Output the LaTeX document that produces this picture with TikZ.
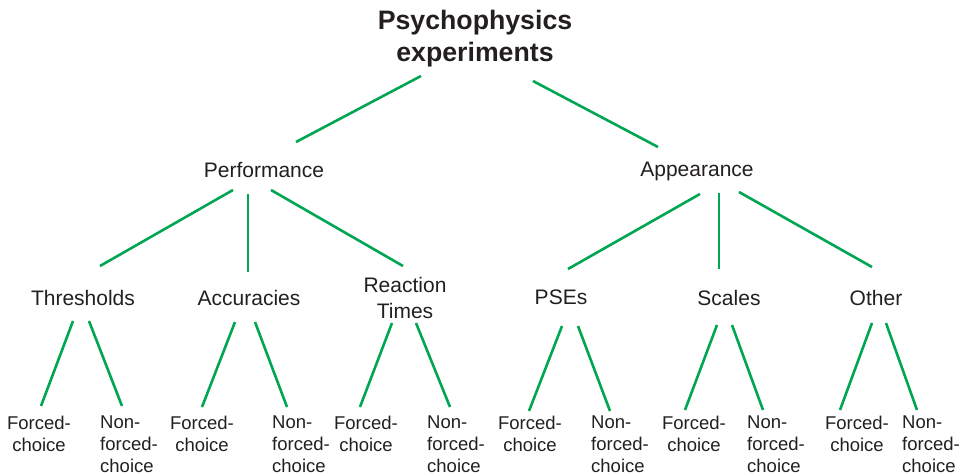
\documentclass[tikz,border=0pt]{standalone}
\usepackage{fontspec}
\setmainfont{Liberation Sans}
\definecolor{branchgreen}{RGB}{0,166,81}
\definecolor{labelgray}{RGB}{35,31,32}
\tikzset{root node/.style={font=\fontsize{26.7}{32}\selectfont\bfseries,align=center,anchor=north,inner sep=0pt,text=labelgray},
         mid node/.style={font=\fontsize{21}{26}\selectfont,align=center,anchor=north,inner sep=0pt,text=labelgray},
         leaf node/.style={font=\fontsize{18.5}{22}\selectfont,inner sep=0pt,text=labelgray},
         forced node/.style={leaf node,align=center,anchor=north},
         nonforced node/.style={leaf node,align=left,anchor=north west},
         branch/.style={draw=branchgreen,line width=2.6pt},
            }

\begin{document}
\begin{tikzpicture}[x=1pt,y=-1pt]
    \useasboundingbox (0,0) rectangle (964,476);

    \node[root node] (top) at (475,10) {Psychophysics\\experiments};

    \node[mid node] (perf) at (264,162) {Performance};
    \node[mid node] (app) at (697,162) {Appearance};

    \node[mid node] (thr) at (83,290) {Thresholds};
    \node[mid node] (acc) at (249,290) {Accuracies};
    \node[mid node] (rt) at (405,277) {Reaction\\Times};
    \node[mid node] (pse) at (561,290) {PSEs};
    \node[mid node] (sca) at (729,290) {Scales};
    \node[mid node] (oth) at (876,290) {Other};

    % leaves
    \node[forced node] (f1) at (39,416) {Forced-\\choice};
    \node[nonforced node] (n1) at (100,416) {Non-\\forced-\\choice};
    \node[forced node] (f2) at (202,416) {Forced-\\choice};
    \node[nonforced node] (n2) at (272,416) {Non-\\forced-\\choice};
    \node[forced node] (f3) at (366,416) {Forced-\\choice};
    \node[nonforced node] (n3) at (427,416) {Non-\\forced-\\choice};
    \node[forced node] (f4) at (530,416) {Forced-\\choice};
    \node[nonforced node] (n4) at (591,416) {Non-\\forced-\\choice};
    \node[forced node] (f5) at (694,416) {Forced-\\choice};
    \node[nonforced node] (n5) at (747,416) {Non-\\forced-\\choice};
    \node[forced node] (f6) at (857,416) {Forced-\\choice};
    \node[nonforced node] (n6) at (902,416) {Non-\\forced-\\choice};

    \path[branch]
    ([shift={(-54,66)}]top.north) edge ([shift={(32,-20)}]perf.north)
    ([shift={(58,71)}]top.north) edge ([shift={(-39,-15)}]app.north)
    ([shift={(-31,28)}]perf.north) edge ([shift={(17,-24)}]thr.north)
    ([shift={(-16,32)}]perf.north) edge ([shift={(-1,-18)}]acc.north)
    ([shift={(7,28)}]perf.north) edge ([shift={(-2,-11)}]rt.north)
    ([shift={(3,32)}]app.north) edge ([shift={(7,-21)}]pse.north)
    ([shift={(22,31)}]app.north) edge ([shift={(-10,-21)}]sca.north)
    ([shift={(42,30)}]app.north) edge ([shift={(-4,-23)}]oth.north);

    \path[branch]
    ([shift={(-10,31)}]thr.north) edge ([shift={(2,-10)}]f1.north)
    ([shift={(6,31)}]thr.north) edge ([shift={(22,-10)}]n1.north west)
    ([shift={(-14,32)}]acc.north) edge ([shift={(0,-9)}]f2.north)
    ([shift={(6,32)}]acc.north) edge ([shift={(15,-9)}]n2.north west)
    ([shift={(-13,46)}]rt.north) edge ([shift={(-6,-9)}]f3.north)
    ([shift={(11,46)}]rt.north) edge ([shift={(23,-9)}]n3.north west)
    ([shift={(1,36)}]pse.north) edge ([shift={(-1,-5)}]f4.north)
    ([shift={(17,36)}]pse.north) edge ([shift={(19,-5)}]n4.north west)
    ([shift={(-12,35)}]sca.north) edge ([shift={(-9,-6)}]f5.north)
    ([shift={(3,35)}]sca.north) edge ([shift={(16,-6)}]n5.north west)
    ([shift={(-4,33)}]oth.north) edge ([shift={(-17,-6)}]f6.north)
    ([shift={(10,33)}]oth.north) edge ([shift={(15,-6)}]n6.north west);
\end{tikzpicture}
\end{document}
